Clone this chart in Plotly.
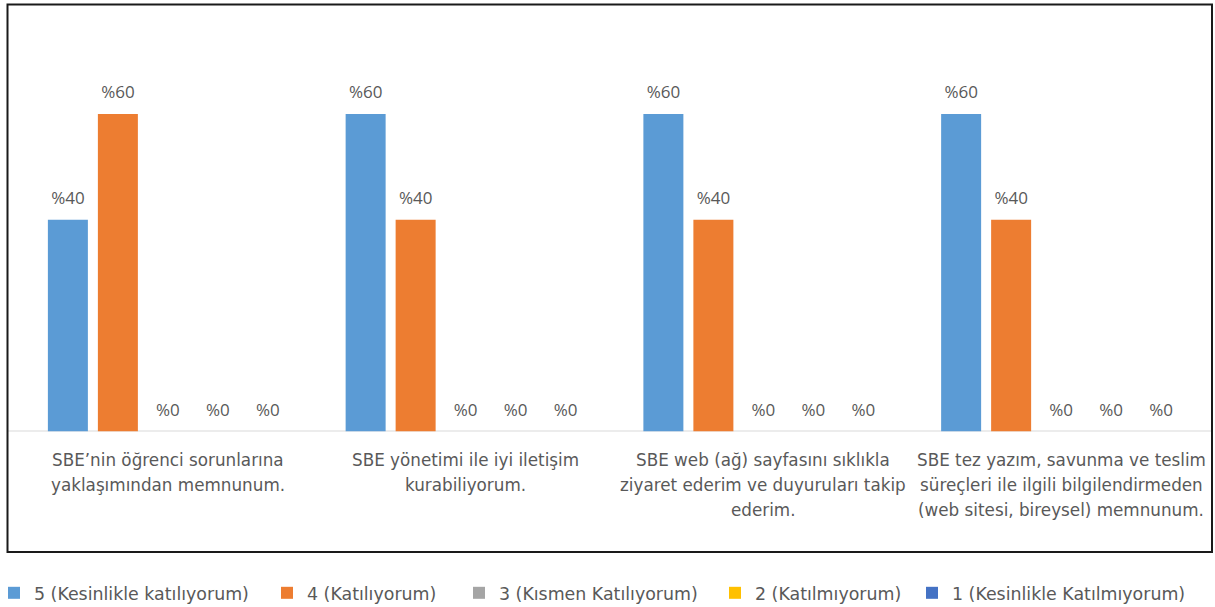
import plotly.graph_objects as go

# ---- data ----
categories = [
    "SBE’nin öğrenci sorunlarına\nyaklaşımından memnunum.",
    "SBE yönetimi ile iyi iletişim\nkurabiliyorum.",
    "SBE web (ağ) sayfasını sıklıkla\nziyaret ederim ve duyuruları takip\nederim.",
    "SBE tez yazım, savunma ve teslim\nsüreçleri ile ilgili bilgilendirmeden\n(web sitesi, bireysel) memnunum.",
]
series_names = [
    "5 (Kesinlikle katılıyorum)",
    "4 (Katılıyorum)",
    "3 (Kısmen Katılıyorum)",
    "2 (Katılmıyorum)",
    "1 (Kesinlikle Katılmıyorum)",
]
s5 = [40, 60, 60, 60]
s4 = [60, 40, 40, 40]
s3 = [0, 0, 0, 0]
s2 = [0, 0, 0, 0]
s1 = [0, 0, 0, 0]
series_values = [s5, s4, s3, s2, s1]
colors = ["#5B9BD5", "#ED7D31", "#A5A5A5", "#FFC000", "#4472C4"]

# legend text start positions (px) for each entry
legend_text_x = [32, 305, 497, 753, 950]

W, H = 1215, 607
FONT = "Open Sans, Lato, sans-serif"
LABEL_FONT = "DejaVu Sans, Open Sans, sans-serif"
TXT = "#595959"

cat_ids = list(range(len(categories)))

def px_x(p):
    return p / W

def px_y(p):
    return 1 - p / H

BARGAP = 0.1604

fig = go.Figure()
legend_layouts = {}
for k, (name, vals, col) in enumerate(zip(series_names, series_values, colors)):
    lg = "legend" if k == 0 else f"legend{k + 1}"
    fig.add_trace(go.Bar(
        x=cat_ids, y=vals, name=name, marker=dict(color=col, line=dict(width=0)),
        hoverinfo="skip", legend=lg,
    ))
    legend_layouts[lg] = dict(
        orientation="h", x=px_x(legend_text_x[k] - 38), xanchor="left",
        y=px_y(593), yanchor="middle",
        font=dict(family=LABEL_FONT, size=17.4, color=TXT), bgcolor="rgba(0,0,0,0)",
    )
# data labels via grouped scatter text
for name, vals in zip(series_names, series_values):
    fig.add_trace(go.Scatter(
        x=cat_ids, y=vals, mode="markers+text",
        text=[f"%{v}" for v in vals], textposition="top center",
        textfont=dict(family=FONT, size=17, color=TXT),
        marker=dict(size=17, opacity=0),
        showlegend=False, hoverinfo="skip", cliponaxis=False,
    ))

annotations = []
for i, lab in enumerate(categories):
    for j, line in enumerate(lab.split("\n")):
        annotations.append(dict(
            x=i, xref="x", y=px_y(460 + 25 * j), yref="paper",
            text=line, showarrow=False, xanchor="center", yanchor="middle",
            font=dict(family=LABEL_FONT, size=16.8, color=TXT),
        ))

shapes = [
    dict(type="line", xref="paper", yref="y", x0=px_x(8), x1=px_x(1211), y0=0, y1=0,
         line=dict(color="#D9D9D9", width=2), layer="below"),
    dict(type="rect", xref="paper", yref="paper", x0=px_x(7.5), x1=px_x(1212), y0=px_y(552), y1=px_y(4.5),
         line=dict(color="#1A1A1A", width=2), fillcolor="rgba(0,0,0,0)"),
]

fig.update_layout(
    width=W, height=H,
    margin=dict(l=0, r=0, t=0, b=0, autoexpand=False),
    paper_bgcolor="white", plot_bgcolor="white",
    barmode="group", bargap=BARGAP, bargroupgap=0.2,
    scattermode="group", scattergap=BARGAP,
    xaxis=dict(domain=[px_x(19), px_x(1210)], range=[-0.5, 3.5], showticklabels=False,
               showgrid=False, zeroline=False, showline=False, ticks=""),
    yaxis=dict(domain=[px_y(431.5), px_y(61.1)], range=[0, 70], visible=False),
    showlegend=True,
    annotations=annotations, shapes=shapes,
    font=dict(family=FONT, color=TXT),
    **legend_layouts,
)

fig.write_html(
    "out.html", config={"displayModeBar": False},
    post_script=("document.body.style.margin='0';"
                 "document.body.style.overflow='hidden';"
                 "document.documentElement.style.overflow='hidden';"),
)
